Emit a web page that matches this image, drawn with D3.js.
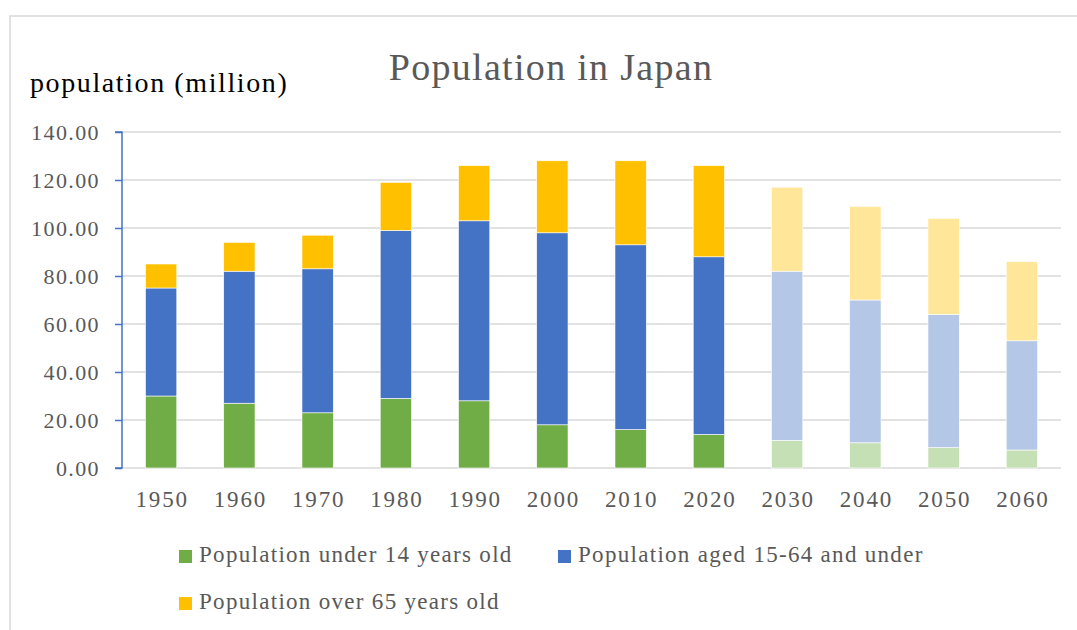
<!DOCTYPE html>
<meta charset="utf-8">
<style>
body { margin: 0; background: #fff; }
text { font-family: "Liberation Serif", "DejaVu Serif", serif; }
</style>
<svg width="1077" height="630"></svg>
<script src="https://d3js.org/d3.v7.min.js"></script>
<script>

var years = ["1950", "1960", "1970", "1980", "1990", "2000", "2010", "2020", "2030", "2040", "2050", "2060"];
var under14 = [30, 27, 23, 29, 28, 18, 16, 14, 11.5, 10.5, 8.5, 7.5];
var aged15to64 = [45, 55, 60, 70, 75, 80, 77, 74, 70.5, 59.5, 55.5, 45.5];
var over65 = [10, 12, 14, 20, 23, 30, 35, 38, 35, 39, 40, 33];
var yTicks = [0, 20, 40, 60, 80, 100, 120, 140];
var seriesNames = ["Population under 14 years old", "Population aged 15-64 and under", "Population over 65 years old"];
var projectedFrom = "2030";

var colors = ["#70AD47", "#4472C4", "#FFC000"];
var fadedColors = ["#C5E0B4", "#B4C7E7", "#FFE699"];

var svg = d3.select("svg");

// chart frame
svg.append("rect")
    .attr("x", 10).attr("y", 16)
    .attr("width", 1100).attr("height", 700)
    .attr("fill", "none").attr("stroke", "#d9d9d9").attr("stroke-width", 1.5);

var margin = {left: 122, right: 1061, top: 132, bottom: 468};

var x = d3.scaleBand()
    .domain(years)
    .range([margin.left, margin.right])
    .paddingInner(0.6).paddingOuter(0.3);

var y = d3.scaleLinear()
    .domain([0, 140])
    .range([margin.bottom, margin.top]);

// gridlines
svg.append("g")
  .selectAll("line")
  .data(yTicks)
  .enter().append("line")
    .attr("x1", margin.left).attr("x2", margin.right)
    .attr("y1", function(d) { return y(d); })
    .attr("y2", function(d) { return y(d); })
    .attr("stroke", "#d9d9d9").attr("stroke-width", 1.5);

// stacked data
var table = years.map(function(yr, i) {
  return {year: yr, a: under14[i], b: aged15to64[i], c: over65[i]};
});
var stack = d3.stack().keys(["a", "b", "c"]);
var layers = stack(table);

var firstProjected = years.indexOf(projectedFrom);

svg.append("g")
  .selectAll("g")
  .data(layers)
  .enter().append("g")
    .each(function(layer, li) {
      d3.select(this).selectAll("rect")
        .data(layer)
        .enter().append("rect")
          .attr("x", function(d) { return x(d.data.year); })
          .attr("width", x.bandwidth())
          .attr("y", function(d) { return y(d[1]); })
          .attr("height", function(d) { return y(d[0]) - y(d[1]); })
          .attr("fill", function(d, i) { return i >= firstProjected ? fadedColors[li] : colors[li]; })
          .attr("stroke", "#fff").attr("stroke-width", 0.6);
    });

// y axis
var yAxis = d3.axisLeft(y)
    .tickValues(yTicks)
    .tickFormat(d3.format(".2f"))
    .tickSize(7)
    .tickPadding(15);

var gy = svg.append("g")
    .attr("transform", "translate(" + margin.left + ",0)")
    .call(yAxis);
gy.select(".domain").attr("stroke", "#4472C4").attr("stroke-width", 1.5)
    .attr("d", "M-7," + margin.top + "H0V" + margin.bottom + "H-7");
gy.selectAll(".tick line").attr("stroke", "#4472C4").attr("stroke-width", 1.5);
gy.selectAll(".tick text")
    .attr("fill", "#595959")
    .style("font-size", "22px")
    .style("letter-spacing", "1.4px")
    .style("font-family", "Liberation Serif, serif");

// x axis
var xAxis = d3.axisBottom(x).tickSize(0).tickPadding(23);
var gx = svg.append("g")
    .attr("transform", "translate(0," + margin.bottom + ")")
    .call(xAxis);
gx.select(".domain").remove();
gx.selectAll(".tick text")
    .attr("fill", "#595959")
    .attr("dx", 1)
    .style("font-size", "23px")
    .style("letter-spacing", "1.8px")
    .style("font-family", "Liberation Serif, serif");

// title
svg.append("text")
    .attr("x", 551).attr("y", 80)
    .attr("text-anchor", "middle")
    .attr("fill", "#595959")
    .style("font-size", "38px")
    .style("letter-spacing", "1.3px")
    .text("Population in Japan");

svg.append("text")
    .attr("x", 30).attr("y", 92)
    .attr("fill", "#000")
    .style("font-size", "28px")
    .style("letter-spacing", "1.6px")
    .text("population (million)");

// legend
var legendPos = [[179, 550], [558, 550], [179, 597]];
var legend = svg.append("g")
  .selectAll("g")
  .data(seriesNames)
  .enter().append("g")
    .attr("transform", function(d, i) { return "translate(" + legendPos[i][0] + "," + legendPos[i][1] + ")"; });

legend.append("rect")
    .attr("width", 13).attr("height", 13)
    .attr("fill", function(d, i) { return colors[i]; });

legend.append("text")
    .attr("x", 20).attr("y", 12)
    .attr("fill", "#595959")
    .style("font-size", "23px")
    .style("letter-spacing", "1.3px")
    .text(function(d) { return d; });

</script>
